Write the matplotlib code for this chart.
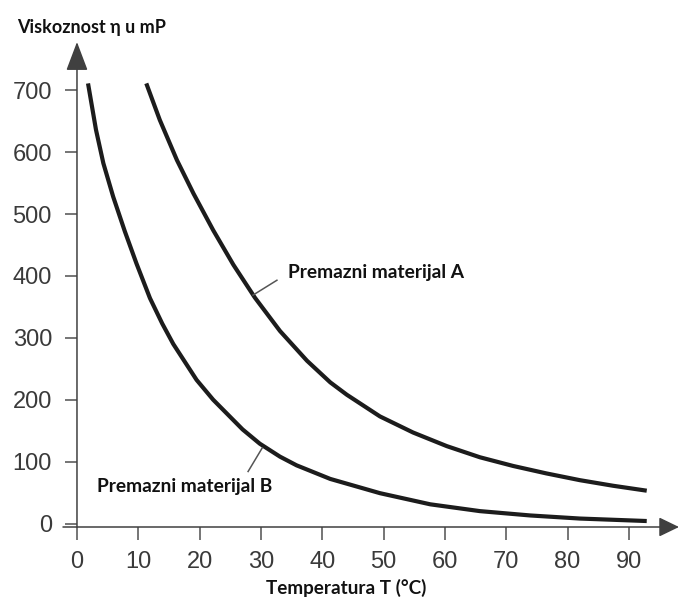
import matplotlib
matplotlib.use("Agg")
import matplotlib.pyplot as plt

# ---- data ----
T_A = [11.3, 13.5, 16.3, 19.0, 22.2, 25.5, 29.0, 33.1, 37.5, 41.3, 44.0, 49.4,
       54.8, 60.3, 65.7, 71.1, 76.5, 82.0, 87.4, 92.9]
eta_A = [711, 652, 587, 533, 474, 418, 365, 311, 263, 228, 208, 173,
         147, 125, 107, 93, 81, 70, 61, 53]

T_B = [1.8, 3.1, 4.3, 5.9, 7.8, 9.7, 11.9, 13.9, 15.7, 19.5, 22.2, 24.4, 27.0,
       29.8, 33.1, 35.8, 41.3, 49.4, 57.6, 65.7, 73.9, 82.0, 92.9]
eta_B = [711, 636, 582, 528, 472, 420, 364, 323, 290, 232, 200, 178, 152,
         129, 108, 94, 72, 49, 31, 20, 13, 8, 4]

x_ticks = [0, 10, 20, 30, 40, 50, 60, 70, 80, 90]
y_ticks = [0, 100, 200, 300, 400, 500, 600, 700]

label_A = "Premazni materijal A"
label_B = "Premazni materijal B"
y_title = "Viskoznost η u mP"
x_title = "Temperatura T (°C)"

W, H = 679, 599
fig = plt.figure(figsize=(W / 100, H / 100), dpi=100)
fig.patch.set_facecolor("white")

ax = fig.add_axes([63 / W, (H - 527) / H, 616 / W, 485 / H])
ax.set_xlim(-2.28, 98.16)
ax.set_ylim(-5.65, 777.9)
ax.set_facecolor("none")

for s in ax.spines.values():
    s.set_color("none")
ax.spines["left"].set_position(("data", 0))

axis_col = "#505050"
tick_font = dict(family=["Liberation Sans", "DejaVu Sans"], size=17)

ax.set_xticks(x_ticks)
ax.set_yticks(y_ticks)
ax.set_xticklabels([str(v) for v in x_ticks], **tick_font)
ax.set_yticklabels([str(v) for v in y_ticks], **tick_font)
ax.tick_params(axis="both", direction="out", length=9, width=1.1,
               color=axis_col, labelcolor="#3a3a3a")
ax.tick_params(axis="y", pad=9)
ax.tick_params(axis="x", pad=8)

# axes with arrow heads
arrow_kw = dict(color="#404040", lw=1.1, shrinkA=0, shrinkB=0)
ax.annotate("", xy=(0, 777.9), xytext=(0, -5.65), xycoords="data",
            arrowprops=dict(arrowstyle="-|>,head_length=0.9,head_width=0.34",
                            mutation_scale=20, **arrow_kw),
            annotation_clip=False)
ax.annotate("", xy=(98.16, -5.65), xytext=(-2.28, -5.65), xycoords="data",
            arrowprops=dict(arrowstyle="-|>,head_length=0.62,head_width=0.3",
                            mutation_scale=20, **arrow_kw),
            annotation_clip=False)

# curves
curve_kw = dict(color="#1c1c1c", lw=3.0, solid_capstyle="butt",
                solid_joinstyle="round", clip_on=False)
ax.plot(T_A, eta_A, **curve_kw)
ax.plot(T_B, eta_B, **curve_kw)

# leader lines
lead_kw = dict(color="#555555", lw=1.1, clip_on=False)
ax.plot([28.7, 32.6], [369, 393], **lead_kw)
ax.plot([30.2, 27.9], [122, 84], **lead_kw)

lab_font = dict(family=["Lato", "DejaVu Sans"], fontweight="bold",
                color="#111111")
ax.text(34.4, 406, label_A, ha="left", va="center", fontsize=13.8, **lab_font)
ax.text(3.3, 59, label_B, ha="left", va="center", fontsize=13.8, **lab_font)

fig.text(17 / W, 1 - 27 / H, y_title, ha="left", va="center",
         fontsize=13, **lab_font)
fig.text(346 / W, 1 - 588 / H, x_title, ha="center", va="center",
         fontsize=13.6, **lab_font)

fig.savefig("out.png", dpi=100, facecolor="white")
